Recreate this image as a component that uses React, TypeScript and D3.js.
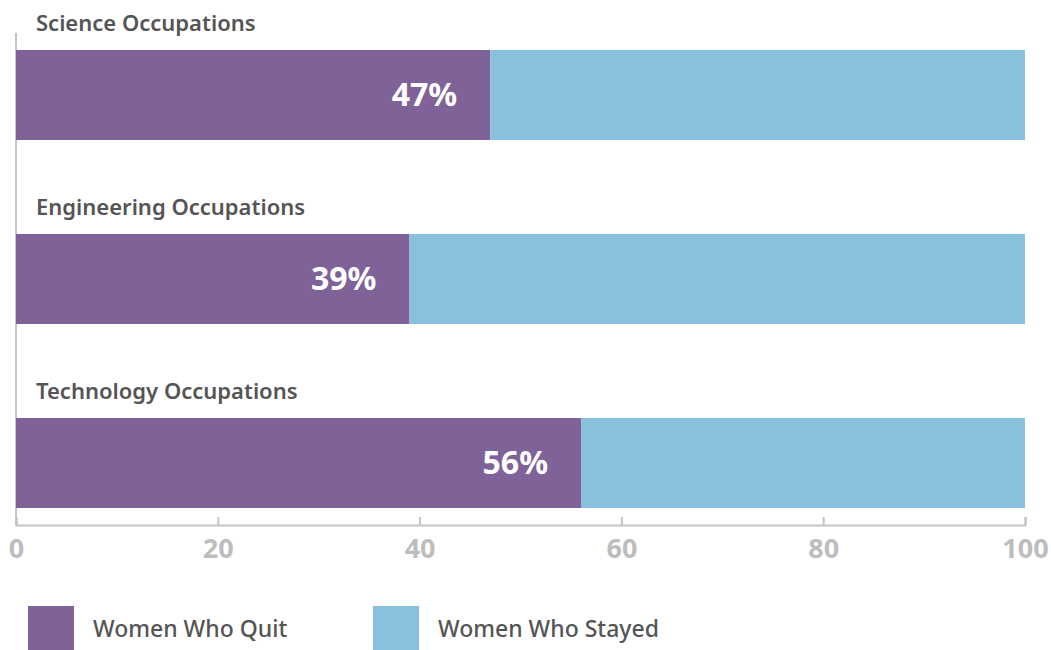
import React, { useEffect, useRef } from 'react';
import * as d3 from 'd3';

const categories = ['Science Occupations', 'Engineering Occupations', 'Technology Occupations'];
const quitValues = [47, 39, 56];
const stayedValues = [53, 61, 44];
const xTicks = [0, 20, 40, 60, 80, 100];
const seriesNames = ['Women Who Quit', 'Women Who Stayed'];
const seriesColors = ['#7e6298', '#88c0de'];

const FONT = '"Noto Sans", "Open Sans", sans-serif';

function App() {
  const ref = useRef<SVGSVGElement>(null);

  useEffect(() => {
    const width = 1051;
    const height = 650;
    const svg = d3.select(ref.current)
      .attr('width', width)
      .attr('height', height)
      .attr('viewBox', [0, 0, width, height].join(' '));
    svg.selectAll('*').remove();

    const x = d3.scaleLinear().domain([0, 100]).range([16, 1025]);
    const y = d3.scaleBand<string>()
      .domain(categories)
      .range([50, 508])
      .paddingInner(94 / 184)
      .paddingOuter(0);
    const axisY = 525;

    // left rule
    svg.append('line')
      .attr('x1', x(0)).attr('x2', x(0))
      .attr('y1', 33).attr('y2', axisY)
      .attr('stroke', '#c4c4c4').attr('stroke-width', 2);

    // stacked bars
    const rows = categories.map((c, i) => ({ c, q: quitValues[i], s: stayedValues[i] }));
    const g = svg.append('g');
    rows.forEach(r => {
      g.append('rect')
        .attr('x', x(0)).attr('y', y(r.c)!)
        .attr('width', x(r.q) - x(0)).attr('height', y.bandwidth())
        .attr('fill', seriesColors[0]);
      g.append('rect')
        .attr('x', x(r.q)).attr('y', y(r.c)!)
        .attr('width', x(r.q + r.s) - x(r.q)).attr('height', y.bandwidth())
        .attr('fill', seriesColors[1]);
      g.append('text')
        .attr('x', x(0) + 20).attr('y', y(r.c)! - 19)
        .attr('font-family', FONT).attr('font-size', 22).attr('font-weight', 600)
        .attr('fill', '#555555')
        .text(r.c);
      g.append('text')
        .attr('x', x(r.q) - 33).attr('y', y(r.c)! + y.bandwidth() / 2 + 11)
        .attr('text-anchor', 'end')
        .attr('font-family', FONT).attr('font-size', 32).attr('font-weight', 700)
        .attr('fill', '#ffffff')
        .text(r.q + '%');
    });

    // bottom axis
    const xAxis = d3.axisBottom(x).tickValues(xTicks).tickSizeInner(-8).tickSizeOuter(-8).tickPadding(16);
    svg.append('g')
      .attr('transform', `translate(0,${axisY})`)
      .call(xAxis)
      .call(a => a.select('.domain').attr('stroke', '#c4c4c4').attr('stroke-width', 2))
      .call(a => a.selectAll('.tick line').attr('stroke', '#c4c4c4').attr('stroke-width', 2))
      .call(a => a.selectAll('.tick text')
        .attr('fill', '#bdbdbd')
        .attr('font-family', FONT)
        .attr('font-size', 27)
        .attr('font-weight', 700)
        .attr('dy', '0.35em')
        .attr('y', 24));

    // legend
    const legendX = [28, 373];
    const legend = svg.append('g');
    seriesNames.forEach((name, i) => {
      legend.append('rect')
        .attr('x', legendX[i]).attr('y', 606)
        .attr('width', 46).attr('height', 46)
        .attr('fill', seriesColors[i]);
      legend.append('text')
        .attr('x', legendX[i] + 65).attr('y', 637)
        .attr('font-family', FONT).attr('font-size', 23).attr('font-weight', 500)
        .attr('fill', '#555555')
        .text(name);
    });
  }, []);

  return (
    <div style={{ position: 'absolute', left: 0, top: 0 }}>
      <svg ref={ref} style={{ display: 'block' }}></svg>
    </div>
  );
}

export default App;
